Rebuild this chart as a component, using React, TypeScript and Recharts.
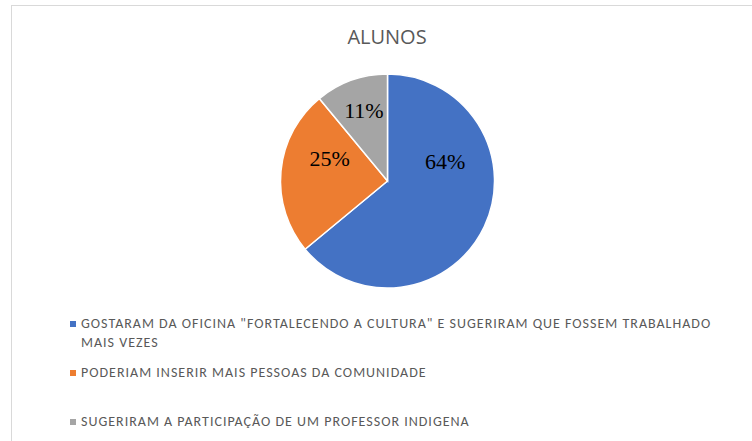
import React from 'react';
import { PieChart, Pie, Cell, Legend } from 'recharts';

const categories = [
  'GOSTARAM DA OFICINA "FORTALECENDO A CULTURA" E SUGERIRAM QUE FOSSEM TRABALHADO MAIS VEZES',
  'PODERIAM INSERIR MAIS PESSOAS DA COMUNIDADE',
  'SUGERIRAM A PARTICIPAÇÃO DE UM PROFESSOR INDIGENA',
];
const values = [64, 25, 11];
const colors = ['#4472C4', '#ED7D31', '#A5A5A5'];

// label placement (Excel "best fit"), as radius and angle relative to the slice middle
const labelRadius = [61, 62, 74];
const labelAngleShift = [44, -15.5, -1.2];
// vertical gaps above each legend entry
const legendGaps = [0, 11, 30];

const data = categories.map((name, i) => ({ name, value: values[i] }));

const RADIAN = Math.PI / 180;

function renderLabel(props: any) {
  const { cx, cy, midAngle, index, percent } = props;
  const a = (midAngle + labelAngleShift[index]) * RADIAN;
  const r = labelRadius[index];
  const x = cx + r * Math.cos(a);
  const y = cy - r * Math.sin(a);
  return (
    <text
      x={x}
      y={y}
      textAnchor="middle"
      dominantBaseline="central"
      fill="#000"
      style={{ fontFamily: '"Liberation Serif", serif', fontSize: 22 }}
    >
      {`${Math.round(percent * 100)}%`}
    </text>
  );
}

function renderLegend(props: any) {
  const { payload } = props;
  return (
    <div style={{ fontFamily: 'Carlito, "Open Sans", sans-serif', fontSize: 14, letterSpacing: 1, color: '#595959' }}>
      {payload.map((p: any, i: number) => (
        <div key={i} style={{ display: 'flex', alignItems: 'flex-start', marginTop: legendGaps[i], lineHeight: '19px' }}>
          <span style={{ width: 6, height: 6, background: p.color, marginTop: 6.5, marginRight: 5, flex: 'none' }} />
          <span>{p.value}</span>
        </div>
      ))}
    </div>
  );
}

export default function App() {
  return (
    <div style={{ position: 'absolute', left: 0, top: 0, width: 752, height: 441, overflow: 'hidden', background: '#fff' }}>
      <div style={{ position: 'absolute', left: 11, top: 5, width: 800, height: 500, border: '1.5px solid #D9D9D9' }} />
      <div
        style={{
          position: 'absolute',
          left: 0,
          width: 774,
          top: 23,
          textAlign: 'center',
          fontFamily: '"Open Sans", sans-serif',
          fontSize: 20,
          color: '#595959',
        }}
      >
        ALUNOS
      </div>
      <PieChart
        width={752}
        height={441}
        margin={{ top: 0, right: 0, bottom: 0, left: 0 }}
        style={{ position: 'absolute', left: 0, top: 0 }}
      >
        <Pie
          data={data}
          dataKey="value"
          nameKey="name"
          cx={387.5}
          cy={181}
          outerRadius={107}
          startAngle={90}
          endAngle={-270}
          stroke="#fff"
          strokeWidth={1.5}
          label={renderLabel}
          labelLine={false}
          isAnimationActive={false}
        >
          {data.map((d, i) => (
            <Cell key={d.name} fill={colors[i]} />
          ))}
        </Pie>
        <Legend
          layout="vertical"
          content={renderLegend}
          wrapperStyle={{ position: 'absolute', left: 70, top: 314, width: 658 }}
        />
      </PieChart>
    </div>
  );
}
